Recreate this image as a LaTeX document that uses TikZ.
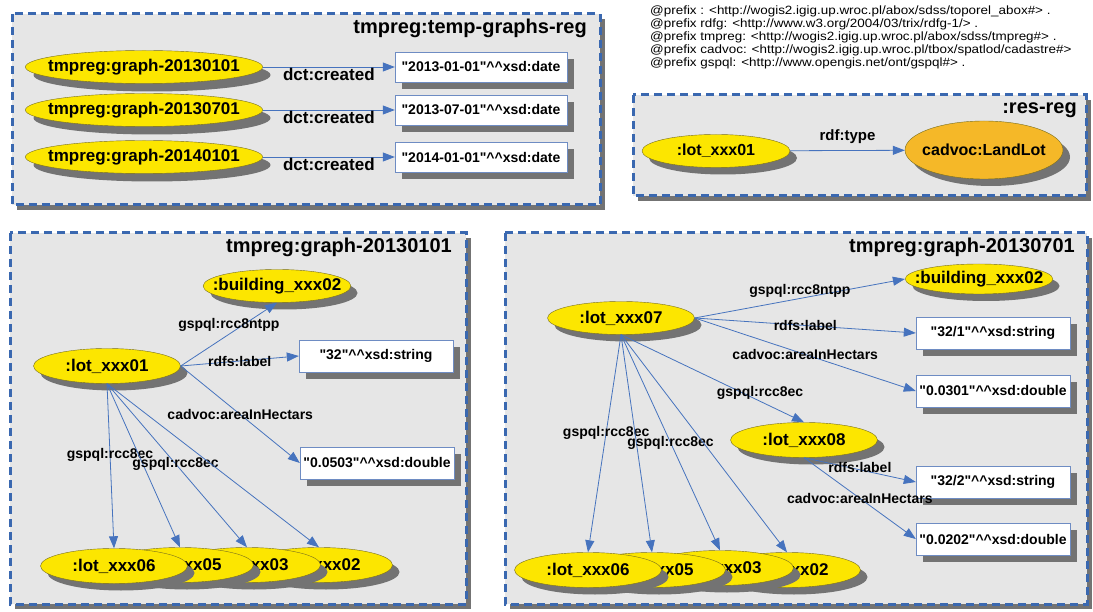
\documentclass[tikz,border=0pt]{standalone}
\usepackage{fontspec}
\setmainfont{Liberation Sans}
\newfontfamily\prefixfamily[FakeStretch=1.12]{Liberation Sans}
\usetikzlibrary{shapes.geometric,arrows.meta}

\definecolor{lotyellow}{RGB}{252,230,0}
\definecolor{lotorange}{RGB}{245,184,40}
\definecolor{lotborder}{RGB}{120,110,30}
\definecolor{litborder}{RGB}{110,140,195}
\definecolor{regblue}{RGB}{58,104,176}
\definecolor{reggray}{RGB}{230,230,230}
\definecolor{relblue}{RGB}{70,115,190}
\definecolor{shadowgray}{RGB}{115,115,115}

\newcommand\typed[2]{\textquotedbl#1\textquotedbl\textasciicircum\textasciicircum xsd:#2}

\begin{document}
\begin{tikzpicture}
  [x=1pt, y=-1pt,
    boxshadow/.style={preaction={fill=shadowgray, draw=none, transform canvas={xshift=5pt, yshift=-5pt}}},
    ghost/.style={fill=shadowgray, draw=none},
    reg/.style={draw=regblue, fill=reggray, line width=3pt, dash pattern=on 8pt off 5pt, boxshadow},
    regtitle/.style={anchor=east, inner sep=0pt, font=\fontsize{20}{24}\selectfont\bfseries},
    res/.style={ellipse, draw=lotborder, fill=lotyellow, inner xsep=-12pt, inner ysep=1pt,
      minimum width=147pt, minimum height=35pt, font=\fontsize{17}{20}\selectfont\bfseries},
    lit/.style={rectangle, draw=litborder, fill=white, minimum width=154pt, minimum height=32pt,
      inner sep=2pt, font=\fontsize{14}{16}\selectfont\bfseries},
    rel/.style={draw=relblue, line width=0.8pt, -{Triangle[length=12pt,width=9pt]}},
    elabel/.style={inner sep=1pt, font=\fontsize{14}{16}\selectfont\bfseries},
  ]
  \useasboundingbox (0,0) rectangle (1093,612);

  \node[anchor=north west, align=left, inner sep=0pt, font=\prefixfamily\fontsize{12}{12.8}\selectfont] (prefixes) at (650,6)
    {@prefix : <http://wogis2.igig.up.wroc.pl/abox/sdss/toporel\_abox\#> .\\
     @prefix rdfg: <http://www.w3.org/2004/03/trix/rdfg-1/> .\\
     @prefix tmpreg: <http://wogis2.igig.up.wroc.pl/abox/sdss/tmpreg\#> .\\
     @prefix cadvoc: <http://wogis2.igig.up.wroc.pl/tbox/spatlod/cadastre\#>\\
     @prefix gspql: <http://www.opengis.net/ont/gspql\#> .};

  % temp graphs
  \draw[reg] (12,14) rectangle (600,205);
  \node[regtitle] (tgtitle) at (587,28) {tmpreg:temp-graphs-reg};
  \foreach \n/\g/\d/\y in {1/20130101/2013-01-01/67, 2/20130701/2013-07-01/110, 3/20140101/2014-01-01/157} {
    \node[res, ghost, minimum width=237pt, minimum height=33pt] (g\n s) at (152,\y+8) {};
    \node[res, minimum width=237pt, minimum height=33pt] (g\n) at (144,\y) {tmpreg:graph-\g};
    \node[lit, ghost, minimum width=172pt, minimum height=30pt] (d\n s) at (488,\y+7) {};
    \node[lit, minimum width=172pt, minimum height=30pt] (d\n) at (481,\y) {\typed{\d}{date}};
    \draw[rel] (g\n) -- (d\n) node[elabel, midway, below, font=\fontsize{17}{20}\selectfont\bfseries] (c\n) {dct:created};
  }

  % res reg
  \draw[reg] (633,95) rectangle (1086,196);
  \node[regtitle] (rrtitle) at (1077,110) {:res-reg};
  \node[res, ghost, minimum width=148pt, minimum height=33pt] (rlots) at (723,158) {};
  \node[res, minimum width=148pt, minimum height=33pt, font=\fontsize{16}{19}\selectfont\bfseries] (rlot) at (716,151) {:lot\_xxx01};
  \node[res, ghost, minimum width=158pt, minimum height=58pt] (lands) at (991,157) {};
  \node[res, fill=lotorange, minimum width=158pt, minimum height=58pt, font=\fontsize{16}{19}\selectfont\bfseries] (land) at (984,150) {cadvoc:LandLot};
  \draw[rel] (rlot) -- (land) node[elabel, midway, above=5pt, font=\fontsize{15}{18}\selectfont\bfseries] (rtype) {rdf:type};

  % graph 20130101
  \draw[reg] (10,233) rectangle (466,604);
  \node[regtitle] (atitle) at (452,247) {tmpreg:graph-20130101};
  \node[res, ghost, minimum height=33pt] (ablds) at (284,293) {};
  \node[res, minimum height=33pt] (abld) at (277,286) {:building\_xxx02};
  \node[res, ghost] (alot01s) at (114,373) {};
  \node[res] (alot01) at (107,366) {:lot\_xxx01};
  \node[lit, ghost] (astrs) at (383,363) {};
  \node[lit] (astr) at (376,356) {\typed{32}{string}};
  \node[lit, ghost] (adbls) at (384,470) {};
  \node[lit] (adbl) at (377,463) {\typed{0.0503}{double}};
  \foreach \n/\x/\y in {02/319/565, 03/247/565, 05/180/565, 06/114/566} {
    \node[res, ghost] (alot\n s) at (\x+7,\y+7) {};
    \node[res] (alot\n) at (\x,\y) {:lot\_xxx\n};
  }
  \draw[rel] (alot01.east) -- (abld.south) node[elabel, pos=.5, above=1pt] {gspql:rcc8ntpp};
  \draw[rel] (alot01.east) -- (astr.west) node[elabel, pos=.5] {rdfs:label};
  \draw[rel] (alot01.east) -- (adbl.west) node[elabel, pos=.5] {cadvoc:areaInHectars};
  \draw[rel] (alot01.south) -- (alot06.north) node[elabel, pos=.43] {gspql:rcc8ec};
  \draw[rel] (alot01.south) -- (alot05.north);
  \draw[rel] (alot01.south) -- (alot03.north) node[elabel, pos=.49] {gspql:rcc8ec};
  \draw[rel] (alot01.south) -- (alot02.north);

  % graph 20130701
  \draw[reg] (505,233) rectangle (1087,604);
  \node[regtitle] (btitle) at (1075,247) {tmpreg:graph-20130701};
  \node[res, ghost, minimum height=33pt] (blot07s) at (628,325) {};
  \node[res, minimum height=33pt] (blot07) at (621,318) {:lot\_xxx07};
  \node[res, ghost, minimum height=30pt] (bblds) at (986,286) {};
  \node[res, minimum height=30pt] (bbld) at (979,279) {:building\_xxx02};
  \node[res, ghost] (blot08s) at (811,447) {};
  \node[res] (blot08) at (804,440) {:lot\_xxx08};
  \foreach \n/\t/\y in {str1/\typed{32/1}{string}/333, dbl1/\typed{0.0301}{double}/391,
                        str2/\typed{32/2}{string}/482, dbl2/\typed{0.0202}{double}/539} {
    \node[lit, ghost] (b\n s) at (1000,\y+7) {};
    \node[lit] (b\n) at (993,\y) {\t};
  }
  \foreach \n/\x/\y in {02/787/570, 03/720/568, 05/652/570, 06/588/570} {
    \node[res, ghost] (blot\n s) at (\x+7,\y+7) {};
    \node[res] (blot\n) at (\x,\y) {:lot\_xxx\n};
  }
  \draw[rel] (blot07.east) -- (bbld.west) node[elabel, pos=.5, above] {gspql:rcc8ntpp};
  \draw[rel] (blot07.east) -- (bstr1.west) node[elabel, pos=.5] {rdfs:label};
  \draw[rel] (blot07.east) -- (bdbl1.west) node[elabel, pos=.5] {cadvoc:areaInHectars};
  \draw[rel] (blot07.south) -- (blot08.north) node[elabel, pos=.76, above] {gspql:rcc8ec};
  \draw[rel] (blot07.south) -- (blot06.north) node[elabel, pos=.45] {gspql:rcc8ec};
  \draw[rel] (blot07.south) -- (blot05.north);
  \draw[rel] (blot07.south) -- (blot03.north) node[elabel, pos=.5] {gspql:rcc8ec};
  \draw[rel] (blot07.south) -- (blot02.north);
  \draw[rel] (blot08.south) -- (bstr2.west) node[elabel, pos=.5, above=-4pt] {rdfs:label};
  \draw[rel] (blot08.south) -- (bdbl2.west) node[elabel, pos=.5] {cadvoc:areaInHectars};
\end{tikzpicture}
\end{document}
